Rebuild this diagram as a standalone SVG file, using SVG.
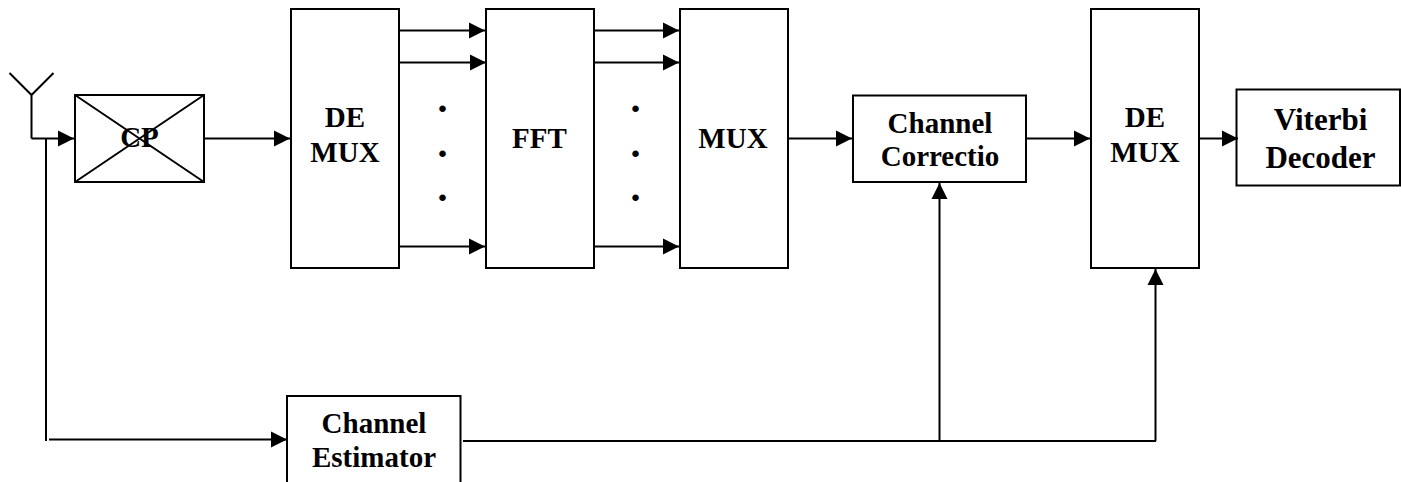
<svg xmlns="http://www.w3.org/2000/svg" width="1401" height="482" viewBox="0 0 1401 482">
<defs><marker id="a" markerUnits="userSpaceOnUse" markerWidth="17" markerHeight="17" refX="16" refY="8.500" orient="auto"><path d="M0 .5L16 8.500L0 16.500Z" fill="#000"/></marker></defs>
<style>
.b{fill:#fff;stroke:#000;stroke-width:2}
.l{fill:none;stroke:#000;stroke-width:2}
.c{fill:none;stroke:#000;stroke-width:2;marker-end:url(#a)}
text{font-family:"Liberation Serif","Times New Roman",serif;font-weight:bold;font-size:29px;text-anchor:middle;fill:#000}
.v{font-size:31px}
.d{font-size:40px}
</style>
<rect width="1401" height="482" fill="#fff"/>
<g id="cp"><rect class="b" x="75" y="95" width="129" height="87"/><path class="l" d="M75 95L204 182M204 95L75 182"/><text x="139.500" y="147">CP</text></g>
<g id="demux1"><rect class="b" x="291" y="9" width="108" height="259"/><text x="345" y="127">DE</text><text x="345" y="162">MUX</text></g>
<g id="fft"><rect class="b" x="486" y="9" width="108" height="259"/><text x="539.500" y="148">FFT</text></g>
<g id="mux"><rect class="b" x="680" y="9" width="108" height="259"/><text x="733" y="148">MUX</text></g>
<g id="corr"><rect class="b" x="853" y="95.500" width="173" height="86.500"/><text x="940" y="133">Channel</text><text x="940" y="166">Correctio</text></g>
<g id="demux2"><rect class="b" x="1091" y="9" width="108" height="259"/><text x="1145" y="127">DE</text><text x="1145" y="162">MUX</text></g>
<g id="viterbi"><rect class="b" x="1236.500" y="89.500" width="163.500" height="96"/><text class="v" x="1320.500" y="130">Viterbi</text><text class="v" x="1320.500" y="168">Decoder</text></g>
<g id="estimator"><rect class="b" x="287" y="396" width="173.500" height="87"/><text x="374" y="433">Channel</text><text x="374" y="467">Estimator</text></g>
<g id="dots"><text class="d" x="442.500" y="111.500">.</text><text class="d" x="442.500" y="156.500">.</text><text class="d" x="442.500" y="200.500">.</text><text class="d" x="635.500" y="111.500">.</text><text class="d" x="635.500" y="156.500">.</text><text class="d" x="635.500" y="200.500">.</text></g>
<g id="connectors">
<path class="l" d="M9.500 73L31.500 95L53.500 73M31.500 95V138.500"/>
<path class="c" d="M31.500 138.500H74"/>
<path class="l" d="M46 138.500V441"/>
<path class="c" d="M49 439.500H287"/>
<path class="c" d="M205 138.500H290"/>
<path class="c" d="M399 30.500H485"/><path class="c" d="M400 62.500H486"/><path class="c" d="M399 246.500H485"/>
<path class="c" d="M594 30.500H679"/><path class="c" d="M594 62.500H679"/><path class="c" d="M594 246.500H679"/>
<path class="c" d="M788 138.500H852"/>
<path class="c" d="M1026 138.500H1090"/>
<path class="c" d="M1199 138.500H1238"/>
<path class="c" d="M939.500 441V183"/>
<path class="l" d="M463 441H1156"/>
<path class="c" d="M1155.500 441V269"/>
</g>
</svg>
